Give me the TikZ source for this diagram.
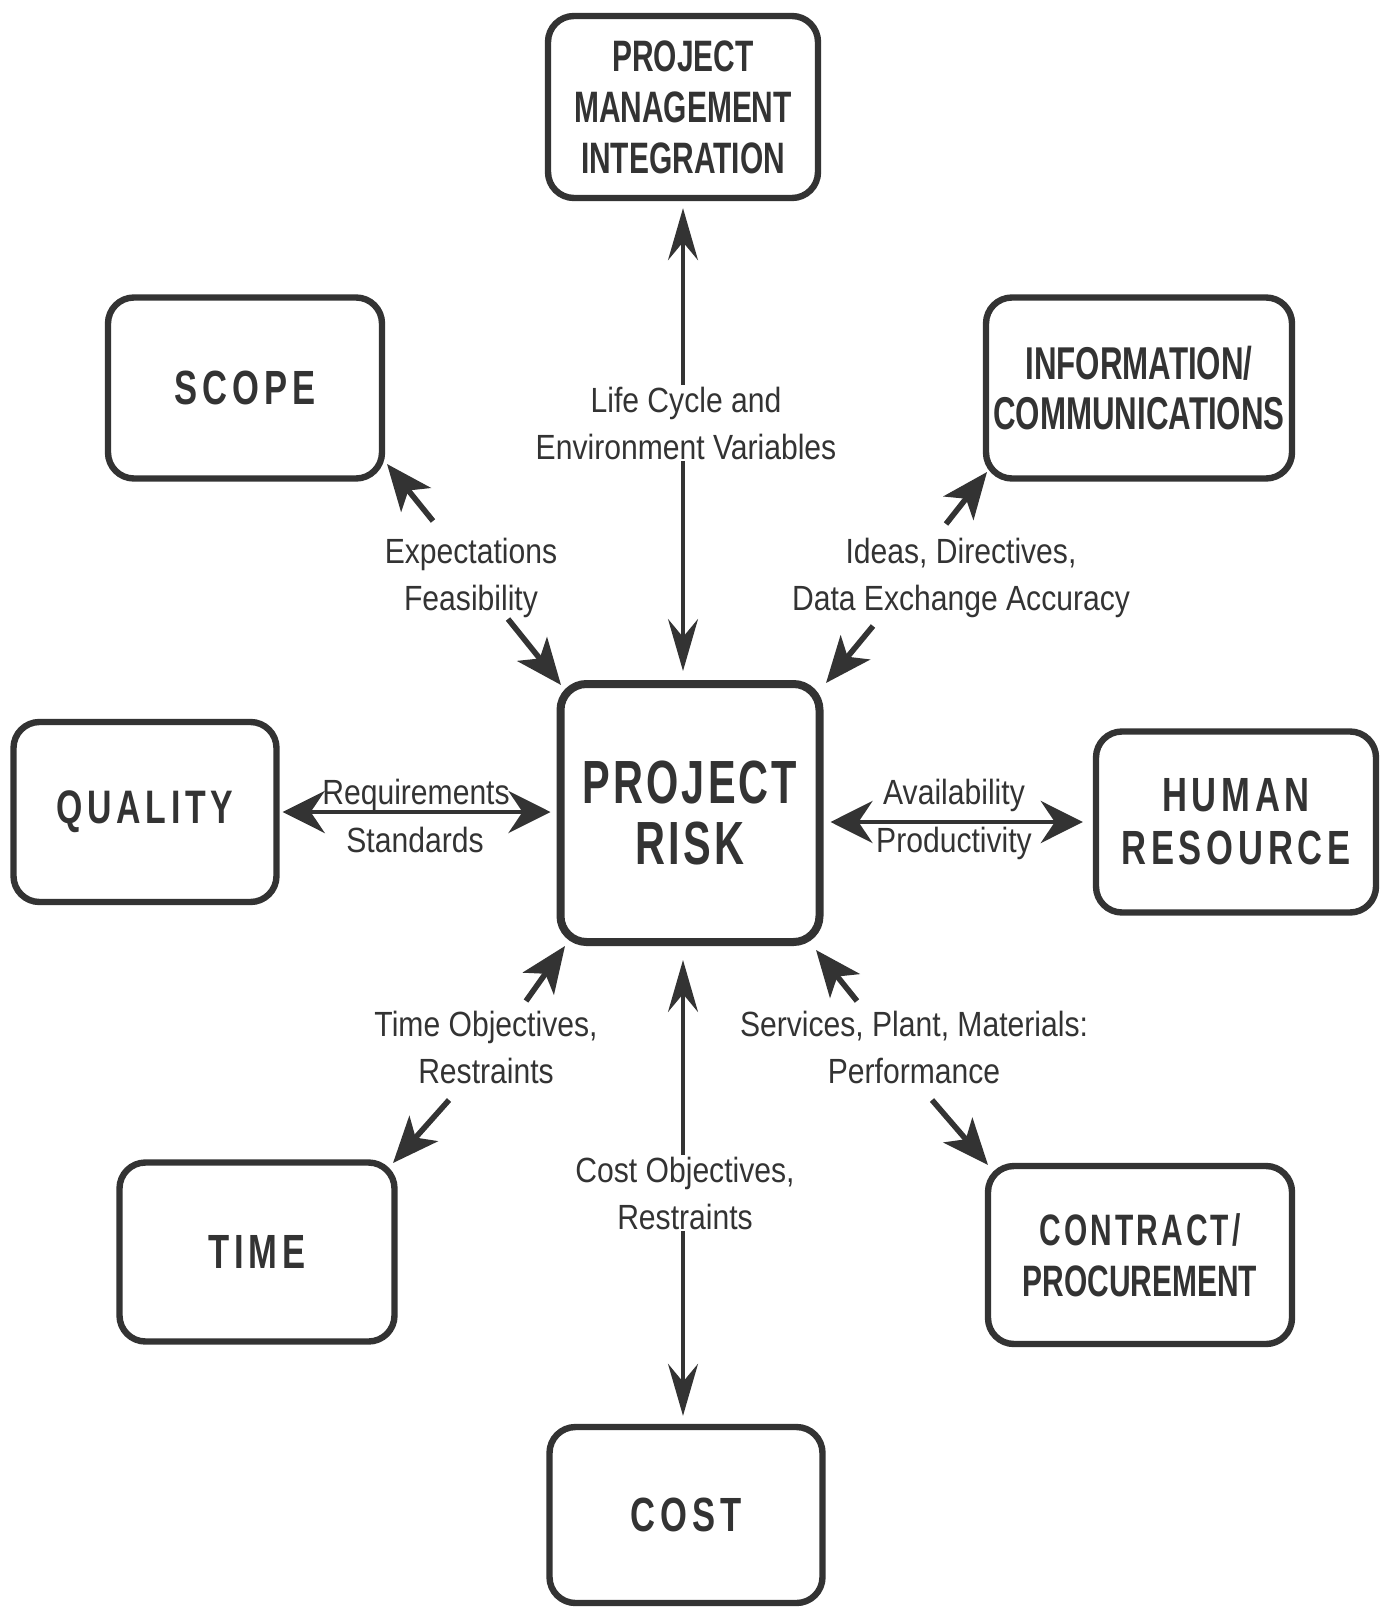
\documentclass[tikz,border=0pt]{standalone}
\usepackage{fontspec}
\setmainfont{Liberation Sans}
\newfontfamily\labelfont[FakeStretch=0.86]{Liberation Sans}
\newfontfamily\narrowbold[FakeStretch=0.68]{Liberation Sans}
\newfontfamily\widebold[FakeStretch=0.72,LetterSpace=10]{Liberation Sans}
\newfontfamily\riskfont[FakeStretch=0.68,LetterSpace=5]{Liberation Sans}
\usetikzlibrary{arrows.meta}
\definecolor{ink}{HTML}{333333}

\tikzset{
  box/.style={draw=ink, text=ink, line width=3.2pt, rounded corners=13pt,
    align=center, inner sep=0pt},
  riskbox/.style={box, line width=4pt},
  widetext/.style={font=\widebold\bfseries\fontsize{24}{26.5}\selectfont},
  narrowtext/.style={font=\narrowbold\bfseries\fontsize{22}{25.5}\selectfont},
  lab/.style={text=ink, align=center, inner sep=1pt,
    font=\labelfont\fontsize{17.5}{23.5}\selectfont},
  varrow/.style={draw=ink, line width=1.7pt,
    arrows={Stealth[length=26pt,width=15pt,inset=9pt]-Stealth[length=26pt,width=15pt,inset=9pt]}},
  harrow/.style={draw=ink, line width=2.4pt,
    arrows={Stealth[length=21pt,width=21pt,inset=7pt]-Stealth[length=21pt,width=21pt,inset=7pt]}},
  darrow/.style={draw=ink, line width=2.8pt,
    arrows={-Stealth[length=23pt,width=19pt,inset=6pt]}},
}

\begin{document}
\begin{tikzpicture}[x=0.5pt, y=-0.5pt]
  \fill[white] (0,0) rectangle (1394,1609);
  \useasboundingbox (0,0) rectangle (1394,1609);

  % outer boxes
  \node[box, narrowtext, minimum width=135pt, minimum height=91pt] (pmi) at (683,107)
    {PROJECT\\MANAGEMENT\\INTEGRATION};
  \node[box, widetext, minimum width=137pt, minimum height=90.5pt] (scope) at (245,388) {SCOPE};
  \node[box, narrowtext, font=\narrowbold\bfseries\fontsize{23}{25}\selectfont,
    minimum width=153pt, minimum height=90.5pt] (info) at (1139,388)
    {INFORMATION/\\COMMUNICATIONS};
  \node[box, widetext, font=\widebold\bfseries\fontsize{23.5}{26.5}\selectfont,
    minimum width=131.5pt, minimum height=90pt] (quality) at (145,812) {QUALITY};
  \node[riskbox, font=\riskfont\bfseries\fontsize{30.5}{30.5}\selectfont,
    minimum width=129.5pt, minimum height=129pt] (pr) at (690,813) {PROJECT\\RISK};
  \node[box, widetext, minimum width=140pt, minimum height=90.5pt] (hr) at (1236,822)
    {HUMAN\\RESOURCE};
  \node[box, widetext, minimum width=137.5pt, minimum height=89.5pt] (time) at (257,1252) {TIME};
  \node[box, narrowtext, minimum width=152pt, minimum height=89pt] (contract) at (1140,1255)
    {\addfontfeature{LetterSpace=7}CONTRACT/\\PROCUREMENT};
  \node[box, widetext, minimum width=136.5pt, minimum height=88pt] (cost) at (686,1515) {COST};

  % vertical connectors
  \draw[varrow] ([yshift=-3.5pt]pmi.south) -- ([yshift=4.5pt]pmi.south |- pr.north);
  \draw[varrow] ([yshift=-7pt]pmi.south |- pr.south) -- ([yshift=4pt]pmi.south |- cost.north);
  \node[lab, fill=white] (lcycle) at (686,423) {Life Cycle and\\Environment Variables};
  \node[lab, fill=white] (lcost) at (685,1193) {Cost Objectives,\\Restraints};

  % horizontal connectors
  \draw[harrow] ([xshift=1.5pt]quality.east) -- ([xshift=-3pt]quality.east -| pr.west);
  \draw[harrow] ([xshift=3.5pt]hr.west -| pr.east) -- ([xshift=-5pt]hr.west);
  \node[lab, anchor=base] (lreq) at (416,804) {Requirements};
  \node[lab, anchor=base] (lstd) at (415,852) {Standards};
  \node[lab, anchor=base] (lavail) at (954,804) {Availability};
  \node[lab, anchor=base] (lprod) at (954,852) {Productivity};

  % diagonal connectors: end points
  \coordinate (scopeTail) at (433,521);  \coordinate (scopeTip) at (387,464);
  \coordinate (prNWtail)  at (508,619);  \coordinate (prNW)     at (561,685);
  \coordinate (infoTail)  at (946,524);  \coordinate (infoTip)  at (987,472);
  \coordinate (prNEtail)  at (873,626);  \coordinate (prNE)     at (826,683);
  \coordinate (prSWtail)  at (526,1001); \coordinate (prSW)     at (565,946);
  \coordinate (timeTail)  at (449,1100); \coordinate (timeTip)  at (393,1163);
  \coordinate (prSEtail)  at (857,1001); \coordinate (prSE)     at (816,950);
  \coordinate (contTail)  at (932,1100); \coordinate (contTip)  at (988,1165);

  \draw[darrow] (scopeTail) -- (scopeTip);
  \draw[darrow] (prNWtail) -- (prNW);
  \draw[darrow] (infoTail) -- (infoTip);
  \draw[darrow] (prNEtail) -- (prNE);
  \draw[darrow] (prSWtail) -- (prSW);
  \draw[darrow] (timeTail) -- (timeTip);
  \draw[darrow] (prSEtail) -- (prSE);
  \draw[darrow] (contTail) -- (contTip);

  \node[lab] (lexp) at (471,578) {Expectations\\Feasibility};
  \node[lab] (lideas) at (961,578) {Ideas, Directives,\\Data Exchange Accuracy};
  \node[lab] (ltime) at (486,1047) {Time Objectives,\\Restraints};
  \node[lab] (lserv) at (914,1047) {Services, Plant, Materials:\\Performance};
\end{tikzpicture}
\end{document}
